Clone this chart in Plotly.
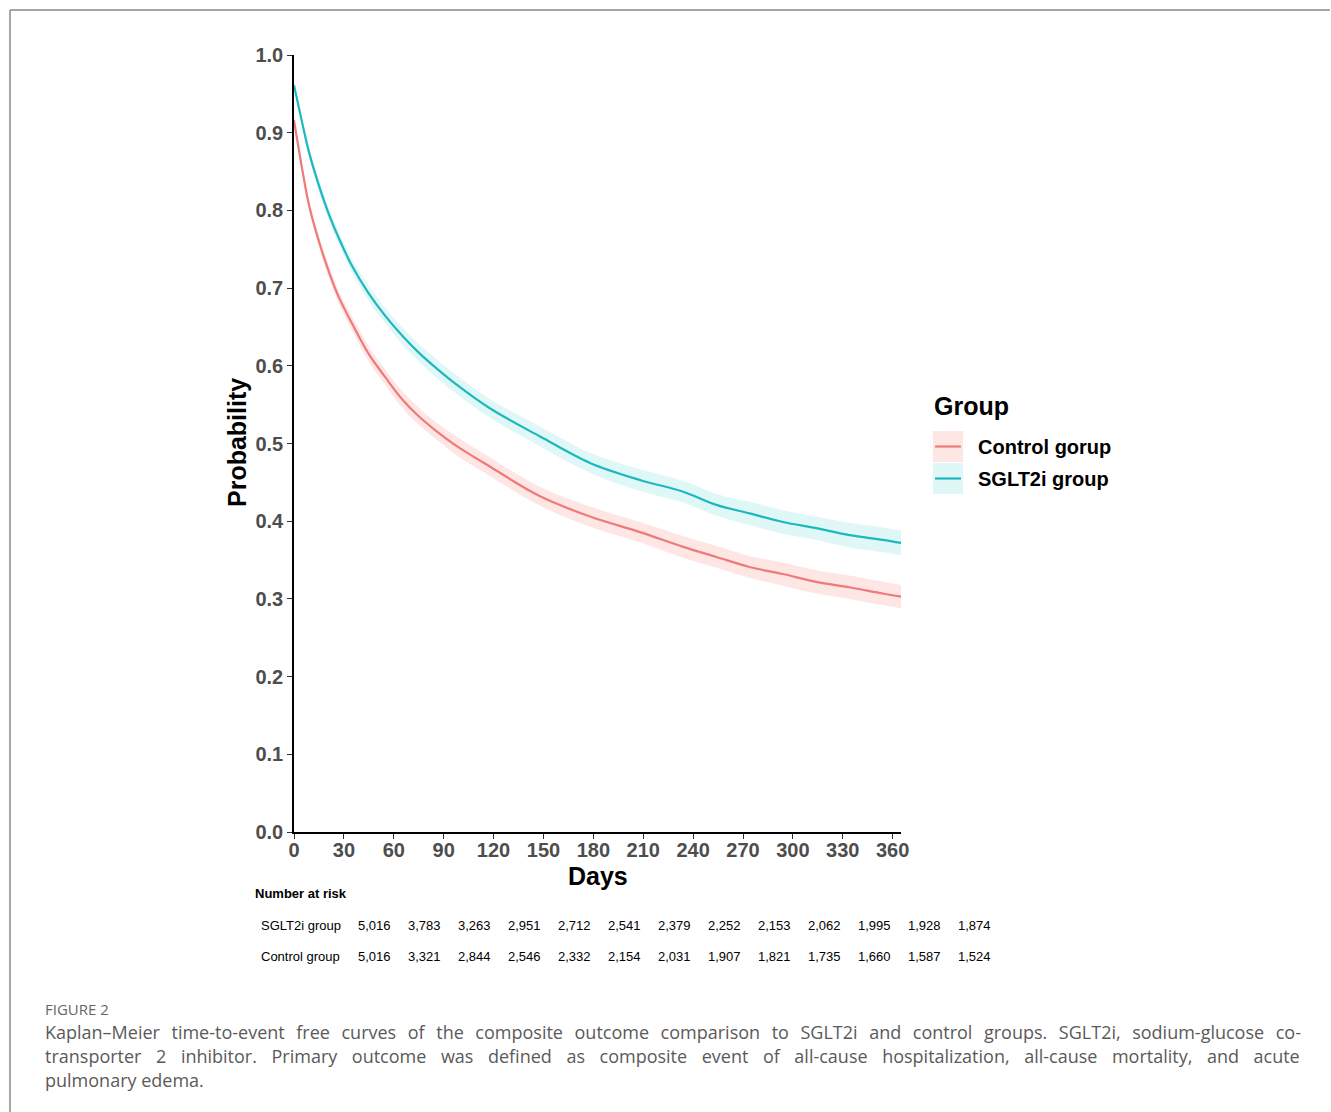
import plotly.graph_objects as go

# ---------------- data ----------------
days = [0, 5, 9, 15, 21, 27, 35, 45, 55, 65, 75, 85, 97, 118, 148, 178, 208,
        234, 254, 274, 294, 314, 334, 354, 365]
sglt2i_surv = [0.961, 0.912, 0.875, 0.832, 0.795, 0.764, 0.728, 0.693, 0.664,
               0.639, 0.617, 0.598, 0.577, 0.545, 0.509, 0.475, 0.453, 0.438,
               0.421, 0.410, 0.399, 0.391, 0.382, 0.376, 0.372]
control_surv = [0.916, 0.852, 0.807, 0.760, 0.721, 0.688, 0.654, 0.615, 0.585,
                0.557, 0.535, 0.517, 0.498, 0.470, 0.432, 0.406, 0.386, 0.367,
                0.354, 0.341, 0.332, 0.322, 0.315, 0.307, 0.303]
sglt2i_ci_half = [0.003, 0.005, 0.006, 0.007, 0.008, 0.008, 0.009, 0.010, 0.010,
                  0.011, 0.011, 0.012, 0.012, 0.012, 0.013, 0.013, 0.014, 0.014,
                  0.014, 0.015, 0.015, 0.015, 0.016, 0.016, 0.016]
control_ci_half = [0.003, 0.005, 0.006, 0.007, 0.008, 0.008, 0.009, 0.010, 0.010,
                   0.011, 0.011, 0.011, 0.012, 0.012, 0.012, 0.013, 0.013, 0.014,
                   0.014, 0.014, 0.015, 0.015, 0.015, 0.015, 0.015]

x_ticks = [0, 30, 60, 90, 120, 150, 180, 210, 240, 270, 300, 330, 360]
y_ticks = [0.0, 0.1, 0.2, 0.3, 0.4, 0.5, 0.6, 0.7, 0.8, 0.9, 1.0]

risk_groups = ["SGLT2i group", "Control group"]
risk_sglt2i = ["5,016", "3,783", "3,263", "2,951", "2,712", "2,541", "2,379",
               "2,252", "2,153", "2,062", "1,995", "1,928", "1,874"]
risk_control = ["5,016", "3,321", "2,844", "2,546", "2,332", "2,154", "2,031",
                "1,907", "1,821", "1,735", "1,660", "1,587", "1,524"]

legend_labels = ["Control gorup", "SGLT2i group"]

caption_title = "FIGURE 2"
caption_lines = [
    "Kaplan\u2013Meier time-to-event free curves of the composite outcome comparison to SGLT2i and control groups. SGLT2i, sodium-glucose co-",
    "transporter 2 inhibitor. Primary outcome was defined as composite event of all-cause hospitalization, all-cause mortality, and acute",
    "pulmonary edema.",
]
# extra word spacing (px) used to imitate the justified caption lines
caption_extra_gap = [6.9, 9.9, 0.0]

# ---------------- styling ----------------
W, H = 1331, 1112
PL, PR, PT, PB = 294, 901, 55, 832   # plot area in pixels
RED, TEAL = "#EE7A7A", "#1DB8BE"
RED_FILL, TEAL_FILL = "rgba(248,118,109,0.18)", "rgba(0,191,196,0.12)"
FONT = "Liberation Sans, Arial, sans-serif"
CAP_FONT = "Open Sans, Noto Sans, sans-serif"


def px(xp):
    return (xp - PL) / (PR - PL)


def py(yp):
    return (PB - yp) / (PB - PT)


def justify(line, extra):
    if extra <= 0:
        return line
    sep = ' <span style="font-size:%.1fpx">\u2003</span>' % extra
    return sep.join(line.split(" "))


fig = go.Figure()

for surv, half, fillc in [(control_surv, control_ci_half, RED_FILL),
                          (sglt2i_surv, sglt2i_ci_half, TEAL_FILL)]:
    lower = [s - h for s, h in zip(surv, half)]
    upper = [s + h for s, h in zip(surv, half)]
    fig.add_trace(go.Scatter(x=days, y=lower, mode="lines", line=dict(width=0, shape="spline"),
                             showlegend=False, hoverinfo="skip"))
    fig.add_trace(go.Scatter(x=days, y=upper, mode="lines", line=dict(width=0, shape="spline"),
                             fill="tonexty", fillcolor=fillc, showlegend=False, hoverinfo="skip"))

fig.add_trace(go.Scatter(x=days, y=control_surv, mode="lines", name=legend_labels[0],
                         line=dict(color=RED, width=2.2, shape="spline"), showlegend=False))
fig.add_trace(go.Scatter(x=days, y=sglt2i_surv, mode="lines", name=legend_labels[1],
                         line=dict(color=TEAL, width=2.2, shape="spline"), showlegend=False))

annotations = []
shapes = []

# axis titles
annotations.append(dict(x=px(598), y=py(876), xref="paper", yref="paper", text="Days",
                        showarrow=False, font=dict(family=FONT, size=25, color="black", weight="bold"),
                        xanchor="center", yanchor="middle"))
annotations.append(dict(x=px(237), y=py(443), xref="paper", yref="paper", text="Probability",
                        textangle=-90, showarrow=False,
                        font=dict(family=FONT, size=25, color="black", weight="bold"),
                        xanchor="center", yanchor="middle"))

# legend (drawn manually to mimic ggplot keys)
annotations.append(dict(x=px(932), y=py(406), xref="paper", yref="paper", text="Group",
                        showarrow=False, font=dict(family=FONT, size=25, color="black", weight="bold"),
                        xanchor="left", yanchor="middle"))
for i, (lab, fc, lc) in enumerate(zip(legend_labels, [RED_FILL, TEAL_FILL], [RED, TEAL])):
    top = 431 + i * 32
    shapes.append(dict(type="rect", xref="paper", yref="paper", x0=px(933), x1=px(963),
                       y0=py(top), y1=py(top + 31), fillcolor=fc, line=dict(width=0)))
    shapes.append(dict(type="line", xref="paper", yref="paper", x0=px(935), x1=px(961),
                       y0=py(top + 15.5), y1=py(top + 15.5), line=dict(color=lc, width=2.2)))
    annotations.append(dict(x=px(976), y=py(top + 16), xref="paper", yref="paper", text=lab,
                            showarrow=False,
                            font=dict(family=FONT, size=20, color="black", weight="bold"),
                            xanchor="left", yanchor="middle"))

# number at risk table
annotations.append(dict(x=px(253), y=py(893), xref="paper", yref="paper", text="Number at risk",
                        showarrow=False, font=dict(family=FONT, size=13, color="black", weight="bold"),
                        xanchor="left", yanchor="middle"))
for row_y, grp, vals in [(925, risk_groups[0], risk_sglt2i), (956, risk_groups[1], risk_control)]:
    annotations.append(dict(x=px(259), y=py(row_y), xref="paper", yref="paper", text=grp,
                            showarrow=False, font=dict(family=FONT, size=13, color="black"),
                            xanchor="left", yanchor="middle"))
    for j, v in enumerate(vals):
        annotations.append(dict(x=px(374 + 50 * j), y=py(row_y), xref="paper", yref="paper",
                                text=v, showarrow=False,
                                font=dict(family=FONT, size=13, color="black"),
                                xanchor="center", yanchor="middle"))

# caption
annotations.append(dict(x=px(43), y=py(1009), xref="paper", yref="paper", text=caption_title,
                        showarrow=False, font=dict(family=CAP_FONT, size=15, color="#666666"),
                        xanchor="left", yanchor="middle"))
for k, line in enumerate(caption_lines):
    annotations.append(dict(x=px(43), y=py(1032 + 24 * k), xref="paper", yref="paper",
                            text=justify(line, caption_extra_gap[k]),
                            showarrow=False, font=dict(family=CAP_FONT, size=18, color="#5a5a5a"),
                            xanchor="left", yanchor="middle"))

# frame lines
shapes.append(dict(type="line", xref="paper", yref="paper", x0=px(10), x1=px(1330),
                   y0=py(10), y1=py(10), line=dict(color="#8a8a8a", width=1.5)))
shapes.append(dict(type="line", xref="paper", yref="paper", x0=px(10), x1=px(10),
                   y0=py(10), y1=py(1112), line=dict(color="#8a8a8a", width=1.5)))

fig.update_layout(
    width=W, height=H, autosize=False,
    margin=dict(l=PL, r=W - PR, t=PT, b=H - PB, pad=0),
    paper_bgcolor="white", plot_bgcolor="white",
    showlegend=False,
    annotations=annotations, shapes=shapes,
    xaxis=dict(range=[0, 365], tickvals=x_ticks, ticktext=[str(t) for t in x_ticks],
               showgrid=False, zeroline=False, showline=True, linecolor="black", linewidth=1.6,
               ticks="outside", ticklen=5, tickwidth=1.4, tickcolor="#333333",
               ticklabelstandoff=-6,
               tickfont=dict(family=FONT, size=20, color="#4D4D4D", weight="bold")),
    yaxis=dict(range=[0, 1], tickvals=y_ticks, ticktext=[f"{t:.1f}" for t in y_ticks],
               showgrid=False, zeroline=False, showline=True, linecolor="black", linewidth=1.6,
               ticks="outside", ticklen=5, tickwidth=1.4, tickcolor="#333333",
               tickfont=dict(family=FONT, size=20, color="#4D4D4D", weight="bold")),
)

fig.write_html("out.html", config={"displayModeBar": False},
               post_script="document.body.style.margin='0';document.body.style.padding='0';")
